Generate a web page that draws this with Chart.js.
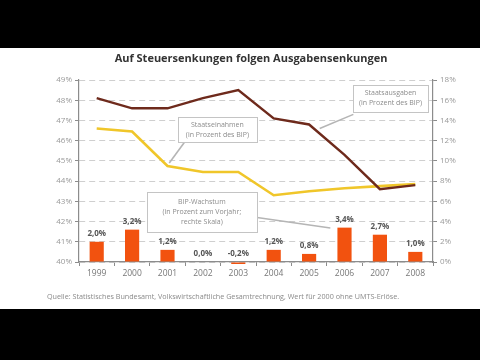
<!DOCTYPE html>
<html>
<head>
<meta charset="utf-8">
<script src="https://cdn.jsdelivr.net/npm/chart.js@4"></script>
<style>
  html, body { margin: 0; padding: 0; background: #000; }
  canvas { display: block; }
</style>
</head>
<body>
<canvas id="chart" width="480" height="360"></canvas>
<script>
// data
const years = ['1999', '2000', '2001', '2002', '2003', '2004', '2005', '2006', '2007', '2008'];
const staatsausgaben = [48.1, 47.6, 47.6, 48.1, 48.5, 47.1, 46.8, 45.3, 43.6, 43.8];
const staatseinnahmen = [46.6, 46.45, 44.75, 44.45, 44.45, 43.3, 43.5, 43.65, 43.75, 43.85];
const bipWachstum = [2.0, 3.2, 1.2, 0.0, -0.2, 1.2, 0.8, 3.4, 2.7, 1.0];
const leftTicks = { min: 40, max: 49, step: 1 };
const rightTicks = { min: 0, max: 18, step: 2 };

const titleText = 'Auf Steuersenkungen folgen Ausgabensenkungen';
const sourceText = 'Quelle: Statistisches Bundesamt, Volkswirtschaftliche Gesamtrechnung, Wert für 2000 ohne UMTS-Erlöse.';

// callouts: box centre in (category index, left-axis value), leader from box to target
const callouts = [
  { lines: ['Staatseinahmen', '(in Prozent des BIP)'], at: [3.41, 46.55], w: 79, h: 25,
    from: [2.49, 45.95], to: [2.05, 44.9] },
  { lines: ['Staatsausgaben', '(in Prozent des BIP)'], at: [8.3, 48.09], w: 75, h: 27,
    from: [7.25, 47.3], to: [6.3, 46.6] },
  { lines: ['BIP-Wachstum', '(in Prozent zum Vorjahr;', 'rechte Skala)'], at: [2.97, 42.47], w: 110, h: 40,
    from: [4.53, 42.2], to: [6.6, 41.68] }
];

const FONT = '"Open Sans", "Noto Sans", sans-serif';
const pct = v => v.toFixed(1).replace('.', ',') + '%';

const framePlugin = {
  id: 'frame',
  beforeDraw(chart) {
    const { ctx, width, height } = chart;
    ctx.save();
    ctx.fillStyle = '#000';
    ctx.fillRect(0, 0, width, height);
    ctx.fillStyle = '#fff';
    ctx.fillRect(0, 48, width, 261);
    ctx.fillStyle = '#333';
    ctx.font = 'bold 11px ' + FONT;
    ctx.textAlign = 'center';
    ctx.textBaseline = 'middle';
    ctx.fillText(titleText, 251, 59);
    ctx.fillStyle = '#8a8a8a';
    ctx.font = '7.2px ' + FONT;
    ctx.textAlign = 'left';
    ctx.fillText(sourceText, 47, 297);
    ctx.restore();
  },
  afterDatasetsDraw(chart) {
    const { ctx } = chart;
    const x = chart.scales.x, y = chart.scales.y, y2 = chart.scales.y2;
    ctx.save();
    // bar labels
    ctx.fillStyle = '#555';
    ctx.font = 'bold 8px ' + FONT;
    ctx.textAlign = 'center';
    ctx.textBaseline = 'bottom';
    const meta = chart.getDatasetMeta(0);
    meta.data.forEach((bar, i) => {
      const top = Math.min(bar.y, y2.getPixelForValue(0));
      ctx.fillText(pct(bipWachstum[i]), bar.x, top - 4);
    });
    // callouts
    const px = p => [x.getPixelForValue(p[0]), y.getPixelForValue(p[1])];
    callouts.forEach(c => {
      const [fx, fy] = px(c.from), [tx, ty] = px(c.to);
      ctx.strokeStyle = '#b5b5b5';
      ctx.lineWidth = 1.6;
      ctx.beginPath(); ctx.moveTo(fx, fy); ctx.lineTo(tx, ty); ctx.stroke();
      const [cx, cy] = px(c.at);
      const bx = Math.round(cx - c.w / 2) + 0.5, by = Math.round(cy - c.h / 2) + 0.5;
      ctx.fillStyle = '#fff';
      ctx.fillRect(bx, by, c.w, c.h);
      ctx.strokeStyle = '#c4c4c4';
      ctx.lineWidth = 1;
      ctx.strokeRect(bx, by, c.w, c.h);
      ctx.fillStyle = '#8c8c8c';
      ctx.font = '7px ' + FONT;
      ctx.textBaseline = 'middle';
      const lh = 10;
      c.lines.forEach((t, k) => {
        ctx.fillText(t, cx, cy + (k - (c.lines.length - 1) / 2) * lh);
      });
    });
    ctx.restore();
  }
};

new Chart(document.getElementById('chart'), {
  data: {
    labels: years,
    datasets: [
      { type: 'bar', label: 'BIP-Wachstum', data: bipWachstum, yAxisID: 'y2', order: 3,
        backgroundColor: '#f2520f', barPercentage: 0.4, categoryPercentage: 1, clip: false },
      { type: 'line', label: 'Staatsausgaben', data: staatsausgaben, yAxisID: 'y', order: 1,
        borderColor: '#6e2a1c', borderWidth: 2.4, pointRadius: 0, tension: 0, fill: false },
      { type: 'line', label: 'Staatseinnahmen', data: staatseinnahmen, yAxisID: 'y', order: 2,
        borderColor: '#f0c62a', borderWidth: 2.6, pointRadius: 0, tension: 0, fill: false }
    ]
  },
  options: {
    responsive: false,
    animation: false,
    layout: { padding: { left: 0, right: 0, top: 80, bottom: 78 } },
    plugins: { legend: { display: false }, tooltip: { enabled: false } },
    scales: {
      x: {
        offset: true,
        afterFit: s => { s.height = 20; },
        grid: { drawOnChartArea: false, offset: true, tickLength: 4, color: '#8c8c8c' },
        border: { color: '#8c8c8c', width: 1.2 },
        ticks: { color: '#777', font: { family: FONT, size: 8.5 }, padding: 2 }
      },
      y: {
        position: 'left',
        min: leftTicks.min, max: leftTicks.max,
        afterFit: s => { s.width = 79; },
        grid: { color: '#cfcfcf', tickLength: 4, tickColor: '#8c8c8c', tickBorderDash: [] },
        border: { color: '#8c8c8c', width: 1.2, dash: [6, 4] },
        ticks: { stepSize: leftTicks.step, color: '#9a9a9a', font: { family: FONT, size: 8 }, padding: 3,
          callback: v => v + '%' }
      },
      y2: {
        position: 'right',
        min: rightTicks.min, max: rightTicks.max,
        afterFit: s => { s.width = 47; },
        grid: { drawOnChartArea: false, tickLength: 4, color: '#8c8c8c' },
        border: { color: '#8c8c8c', width: 1.2 },
        ticks: { stepSize: rightTicks.step, color: '#9a9a9a', font: { family: FONT, size: 8 }, padding: 3,
          callback: v => v + '%' }
      }
    }
  },
  plugins: [framePlugin]
});
</script>
</body>
</html>
